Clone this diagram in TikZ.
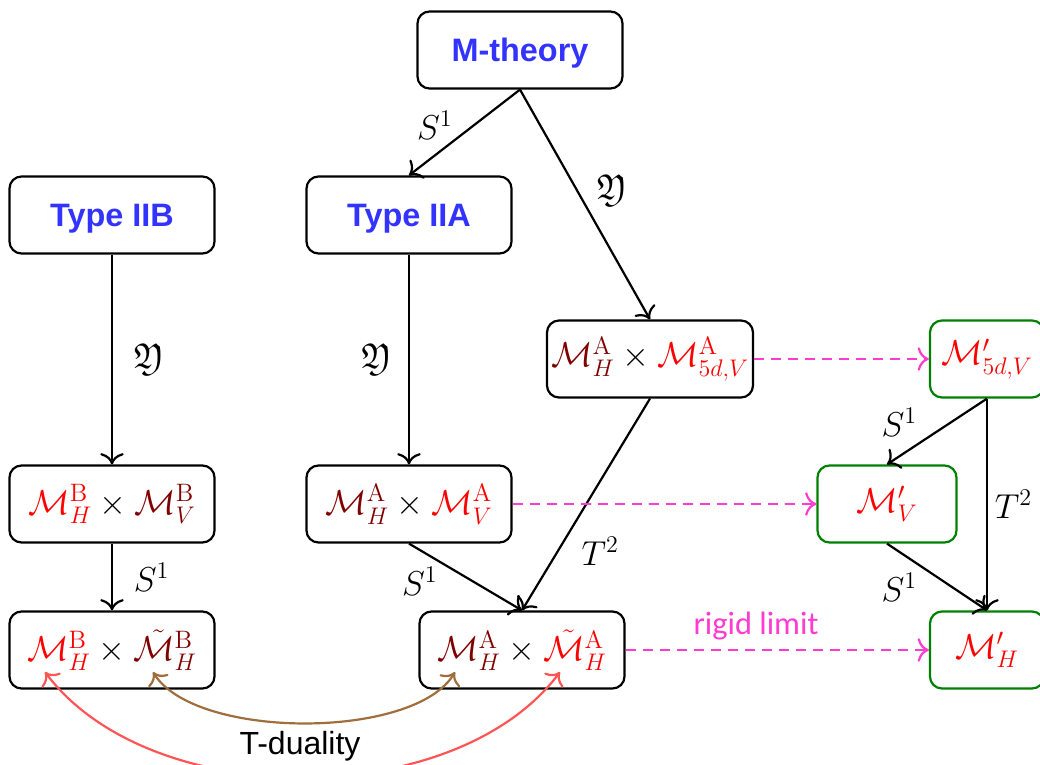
\documentclass[tikz,border=0pt]{standalone}
\usepackage{amsmath}
\usepackage{amssymb}
\usepackage{fontspec}
\usetikzlibrary{arrows.meta}
\newfontfamily\arialfont{Liberation Sans}
\newfontfamily\calibrifont{Carlito}
\definecolor{titleblue}{RGB}{51,51,255}
\definecolor{darkred}{RGB}{128,0,0}
\definecolor{limpink}{RGB}{255,60,210}
\definecolor{boxgreen}{RGB}{0,128,0}
\definecolor{tbrown}{RGB}{160,110,60}
\definecolor{tred}{RGB}{255,85,85}
\newcommand{\HA}{{\color{darkred}\mathcal{M}_H^{\mathrm{A}}}}
\newcommand{\HB}{{\color{red}\mathcal{M}_H^{\mathrm{B}}}}
\newcommand{\VA}{{\color{red}\mathcal{M}_V^{\mathrm{A}}}}
\newcommand{\VB}{{\color{darkred}\mathcal{M}_V^{\mathrm{B}}}}
\newcommand{\VfA}{{\color{red}\mathcal{M}_{5d,V}^{\mathrm{A}}}}
\newcommand{\HtA}{{\color{red}\tilde{\mathcal{M}}_H^{\mathrm{A}}}}
\newcommand{\HtB}{{\color{darkred}\tilde{\mathcal{M}}_H^{\mathrm{B}}}}

\begin{document}
\begin{tikzpicture}[x=0.5pt,y=-0.5pt,>={Computer Modern Rightarrow[scale=1.4]},
	box/.style={draw,line width=1.1pt,rounded corners=6pt,minimum width=102.5pt,minimum height=38.5pt,inner sep=2pt,font=\fontsize{18}{22}\selectfont},
	theory/.style={box,text=titleblue,text height=11.6pt,text depth=0pt,font=\arialfont\bfseries\fontsize{16.2}{20}\selectfont},
	limitbox/.style={box,draw=boxgreen,text=red,minimum width=57pt},
	map/.style={->,line width=1.1pt},
	lim/.style={->,line width=1.1pt,limpink,dash pattern=on 5pt off 3.5pt},
	lbl/.style={font=\fontsize{18}{22}\selectfont}]
	\clip (0,0) rectangle (1040,765);
	\node[theory] (mt) at (520,50) {M-theory};
	\node[theory] (iib) at (112,215) {Type IIB};
	\node[theory] (iia) at (409,215) {Type IIA};
	\node[box] (a5) at (650,359) {$\HA\times\VfA$};
	\node[box] (bv) at (112,504) {$\HB\times\VB$};
	\node[box] (av) at (409,504) {$\HA\times\VA$};
	\node[box] (bt) at (112,650) {$\HB\times\HtB$};
	\node[box] (at) at (522,650) {$\HA\times\HtA$};
	\node[limitbox] (p5) at (987,359) {$\mathcal{M}'_{5d,V}$};
	\node[limitbox,minimum width=69.5pt] (pv) at (887,504) {$\mathcal{M}'_V$};
	\node[limitbox] (ph) at (987,650) {$\mathcal{M}'_H$};
	\draw[map] (mt.south) -- (iia.north) node[midway,left=2pt,yshift=3.5pt,lbl] (s1m) {$S^1$};
	\draw[map] (mt.south) -- (a5.north) node[midway,right=2pt,yshift=7pt,lbl] (ym) {$\mathfrak{Y}$};
	\draw[map] (iib.south) -- (bv.north) node[midway,right=7pt,lbl] (yb) {$\mathfrak{Y}$};
	\draw[map] (iia.south) -- (av.north) node[midway,left=5pt,lbl] (ya) {$\mathfrak{Y}$};
	\draw[map] (bv.south) -- (bt.north) node[midway,right=7pt,lbl] (s1b) {$S^1$};
	\draw[map] (av.south) -- (at.north) node[midway,left=10pt,yshift=-2pt,lbl] (s1a) {$S^1$};
	\draw[map] (a5.south) -- (at.north) node[pos=0.72,right=8pt,lbl] (t2a) {$T^2$};
	\draw[map] (p5.south) -- (pv.north) node[midway,left=6pt,yshift=4.5pt,lbl] (s1p) {$S^1$};
	\draw[map] (p5.south) -- (ph.north) node[midway,right,lbl] (t2p) {$T^2$};
	\draw[map] (pv.south) -- (ph.north) node[midway,left=6pt,yshift=-5pt,lbl] (s1q) {$S^1$};
	\foreach \a/\b in {a5/p5,av/pv} \draw[lim] (\a.east) -- (\b.west);
	\draw[lim] (at.east) -- (ph.west) node[pos=0.43,above=1pt,font=\calibrifont\fontsize{16.2}{19}\selectfont] (rigid) {rigid limit};
	\coordinate (bhl) at (45,672);
	\coordinate (bhr) at (153,672);
	\coordinate (ahl) at (455,672);
	\coordinate (ahr) at (560,672);
	\draw[<->,line width=1.1pt,tbrown] (bhr) .. controls +(42,68) and +(-40,68) .. (ahl);
	\draw[<->,line width=1.1pt,tred] (bhl) .. controls +(105,140) and +(-105,140) .. (ahr);
	\node[font=\arialfont\fontsize{16}{19}\selectfont] (td) at (300,746) {T-duality};
\end{tikzpicture}
\end{document}
